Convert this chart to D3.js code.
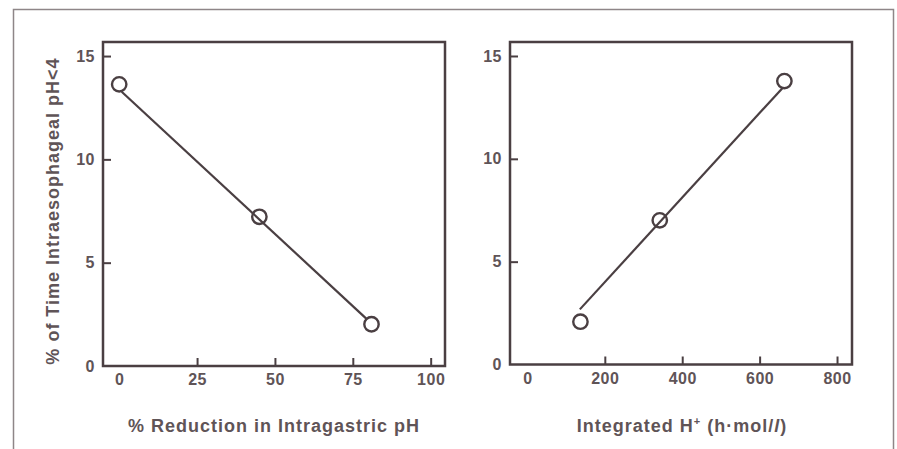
<!DOCTYPE html>
<html>
<head>
<meta charset="utf-8">
<script src="https://cdn.jsdelivr.net/npm/d3@7"></script>
<style>
  html, body { margin: 0; padding: 0; background: #fff; }
  svg { display: block; }
  text { font-family: "Liberation Sans", Arial, Helvetica, sans-serif; font-weight: bold; }
</style>
</head>
<body>
<svg id="chart" width="897" height="449"></svg>
<script>
// ---- data ----
const leftX = [0, 45, 81];            // % reduction in intragastric pH
const leftY = [13.63, 7.22, 2.02];    // % time intraesophageal pH<4
const leftFitX = [0.8, 79.5];
const leftFitY = [13.27, 2.27];
const leftXTicks = [0, 25, 50, 75, 100];

const rightX = [137, 342, 664];       // integrated H+ (h·mol/l)
const rightY = [2.08, 7.01, 13.78];
const rightFitX = [135.5, 660];
const rightFitY = [2.68, 13.46];
const rightXTicks = [0, 200, 400, 600, 800];

const yTicks = [0, 5, 10, 15];
const yTitle = "% of Time Intraesophageal pH<4";
const leftXTitle = "% Reduction in Intragastric pH";

// ---- style ----
const axisColor = "#4a3f42";
const textColor = "#5f5457";
const outerColor = "#8e8688";

const svg = d3.select("#chart");

// outer frame
svg.append("path")
  .attr("d", "M13.5,449 L13.5,9.5 L893.5,9.5 L893.5,449")
  .attr("fill", "none").attr("stroke", outerColor).attr("stroke-width", 1.5);

function panel(cfg) {
  const x = d3.scaleLinear().domain(cfg.xDomain).range([cfg.x0, cfg.x1]);
  const y = d3.scaleLinear().domain([0, 15.68]).range([cfg.y0, 42]);
  const g = svg.append("g");

  // y axis (ticks inward)
  const ya = g.append("g").attr("transform", `translate(${cfg.x0},0)`)
    .call(d3.axisLeft(y).tickValues(yTicks).tickSize(-8).tickPadding(8).tickFormat(d3.format("d")));
  // x axis (ticks inward)
  const xa = g.append("g").attr("transform", `translate(0,${cfg.y0})`)
    .call(d3.axisBottom(x).tickValues(cfg.xTicks).tickSize(-8).tickPadding(8).tickFormat(d3.format("d")));

  [ya, xa].forEach(a => {
    a.select(".domain").remove();
    a.selectAll(".tick line").attr("stroke", axisColor).attr("stroke-width", 2);
    a.selectAll(".tick text").attr("fill", textColor)
      .style("font-size", "16px").style("font-weight", "bold")
      .style("font-family", '"Liberation Sans", Arial, sans-serif')
      .style("letter-spacing", "0.5px");
  });
  xa.selectAll(".tick").filter(d => d === 0).select("line").remove();
  ya.selectAll(".tick").filter(d => d === 0).select("line").remove();

  // frame
  g.append("rect")
    .attr("x", cfg.x0).attr("y", 42)
    .attr("width", cfg.x1 - cfg.x0).attr("height", cfg.y0 - 42)
    .attr("fill", "none").attr("stroke", axisColor).attr("stroke-width", 2.5);

  // regression line
  const pts = cfg.fitX.map((v, i) => [v, cfg.fitY[i]]);
  g.append("path")
    .attr("d", d3.line().x(d => x(d[0])).y(d => y(d[1]))(pts))
    .attr("fill", "none").attr("stroke", axisColor).attr("stroke-width", 2.2);

  // points
  g.selectAll("circle.pt").data(cfg.px.map((v, i) => [v, cfg.py[i]]))
    .enter().append("circle")
    .attr("cx", d => x(d[0])).attr("cy", d => y(d[1])).attr("r", 7.2)
    .attr("fill", "none").attr("stroke", axisColor).attr("stroke-width", 2.4);

  return { x, y, g };
}

const L = panel({
  x0: 103, x1: 445, y0: 366, xDomain: [-5.2, 104.6], xTicks: leftXTicks,
  px: leftX, py: leftY, fitX: leftFitX, fitY: leftFitY
});
const R = panel({
  x0: 510, x1: 852, y0: 364.5, xDomain: [-45, 838.7], xTicks: rightXTicks,
  px: rightX, py: rightY, fitX: rightFitX, fitY: rightFitY
});

// y title (left panel)
svg.append("text")
  .attr("transform", "translate(59,211) rotate(-90)")
  .attr("text-anchor", "middle")
  .attr("fill", textColor)
  .style("font-size", "18px").style("letter-spacing", "1px")
  .text(yTitle);

// x titles
svg.append("text")
  .attr("x", 274).attr("y", 432)
  .attr("text-anchor", "middle")
  .attr("fill", textColor)
  .style("font-size", "18px").style("letter-spacing", "1px")
  .text(leftXTitle);

const rt = svg.append("text")
  .attr("x", 682).attr("y", 432)
  .attr("text-anchor", "middle")
  .attr("fill", textColor)
  .style("font-size", "18px").style("letter-spacing", "1px");
rt.append("tspan").text("Integrated H");
rt.append("tspan").attr("dy", -7).style("font-size", "11px").text("+");
rt.append("tspan").attr("dy", 7).text(" (h\u00B7mol/");
rt.append("tspan").style("font-style", "italic").text("l");
rt.append("tspan").text(")");
</script>
</body>
</html>
